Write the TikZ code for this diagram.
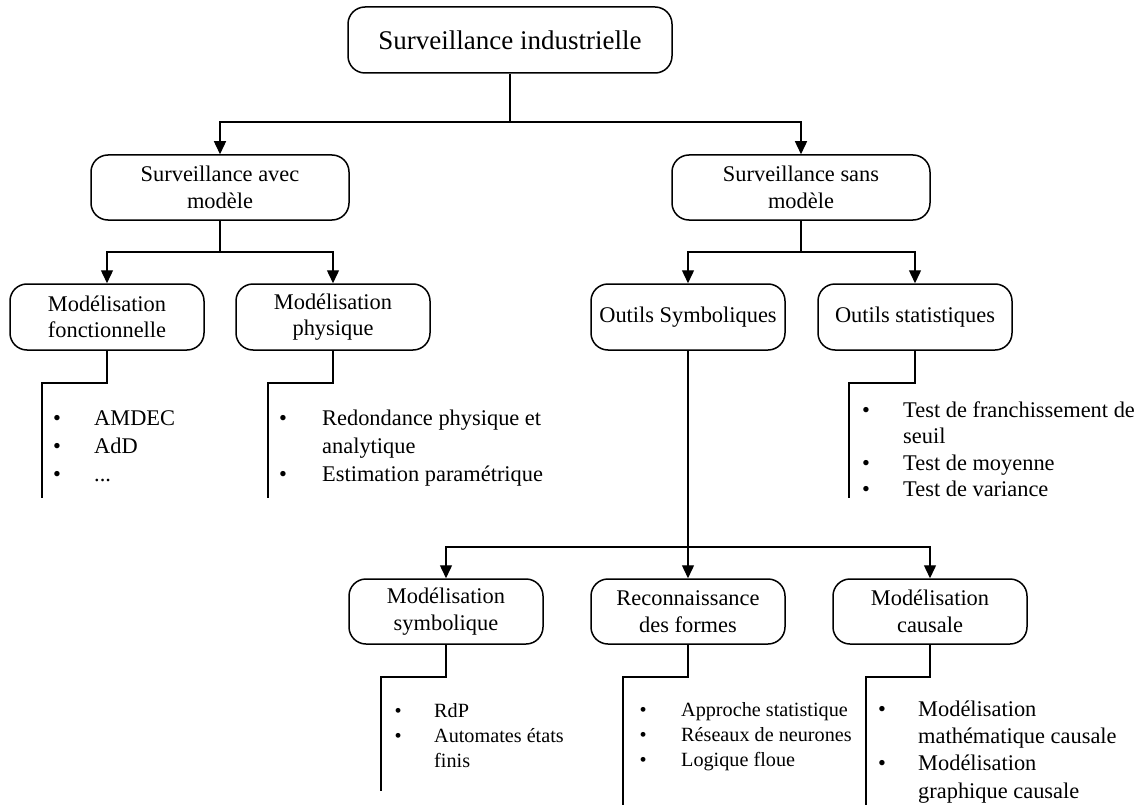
\documentclass[tikz,border=0pt]{standalone}
\usepackage{fontspec}
\setmainfont{Liberation Serif}
\usetikzlibrary{arrows.meta}
\begin{document}
\begin{tikzpicture}[x=1pt,y=-1pt,
  box/.style={draw,line width=1.5pt,rounded corners=17pt,minimum width=194pt,minimum height=66pt,align=center,inner sep=0pt,font=\fontsize{22.4}{26.5}\selectfont},
  conn/.style={line width=1.4pt},
  arr/.style={conn,-{Triangle[length=13pt,width=12pt]}},
  lst/.style={anchor=base west,inner sep=0pt}]
\useasboundingbox (0,0) rectangle (1142,805);

% boxes
\node[box,minimum width=324pt,font=\fontsize{27}{32}\selectfont] (top) at (510,40) {Surveillance industrielle};
\node[box,minimum width=258pt,minimum height=65pt] (avec) at (220,187.5) {Surveillance avec\\modèle};
\node[box,minimum width=258pt,minimum height=65pt] (sans) at (801,187.5) {Surveillance sans\\modèle};
\node[box] (fonct) at (107,317) {Modélisation\\fonctionnelle};
\node[box] (phys) at (333,317) {Modélisation\\physique};
\node[box] (osym) at (688,317) {Outils Symboliques};
\node[box] (ostat) at (915,317) {Outils statistiques};
\node[box,minimum height=65pt] (msym) at (446,611.5) {Modélisation\\symbolique};
\node[box,minimum height=65pt] (reco) at (688,611.5) {Reconnaissance\\des formes};
\node[box,minimum height=65pt] (caus) at (930,611.5) {Modélisation\\causale};

% junctions
\coordinate (j0) at (510,122);
\coordinate (j1) at (220,252);
\coordinate (j2) at (801,252);
\coordinate (j3) at (688,547);

\draw[conn] (top.south) -- (j0);
\draw[arr] (j0) -| (avec.north);
\draw[arr] (j0) -| (sans.north);
\draw[conn] (avec.south) -- (j1);
\draw[arr] (j1) -| (fonct.north);
\draw[arr] (j1) -| (phys.north);
\draw[conn] (sans.south) -- (j2);
\draw[arr] (j2) -| (osym.north);
\draw[arr] (j2) -| (ostat.north);
\draw[conn] (osym.south) -- (j3);
\draw[arr] (j3) -| (msym.north);
\draw[arr] (j3) -- (reco.north);
\draw[arr] (j3) -| (caus.north);

% list brackets
\coordinate (bf) at (42,383);  \coordinate (ef) at (42,498);
\coordinate (bp) at (268,383); \coordinate (ep) at (268,498);
\coordinate (bs) at (849,383); \coordinate (es) at (849,498);
\coordinate (bm) at (381,677); \coordinate (em) at (381,791);
\coordinate (br) at (623,677); \coordinate (er) at (623,805);
\coordinate (bc) at (866,677); \coordinate (ec) at (866,805);
\draw[conn] (fonct.south) |- (bf) -- (ef);
\draw[conn] (phys.south) |- (bp) -- (ep);
\draw[conn] (ostat.south) |- (bs) -- (es);
\draw[conn] (msym.south) |- (bm) -- (em);
\draw[conn] (reco.south) |- (br) -- (er);
\draw[conn] (caus.south) |- (bc) -- (ec);

% lists
\node[lst,font=\fontsize{22.4}{28}\selectfont] (lfonct) at (53,425)
  {\begin{tabular}[t]{@{}p{41pt}@{}l@{}}\textbullet&AMDEC\\\textbullet&AdD\\\textbullet&...\end{tabular}};
\node[lst,font=\fontsize{22.4}{28}\selectfont] (lphys) at (279,425)
  {\begin{tabular}[t]{@{}p{43pt}@{}l@{}}\textbullet&Redondance physique et\\&analytique\\\textbullet&Estimation paramétrique\end{tabular}};
\node[lst,font=\fontsize{22.4}{26.5}\selectfont] (lstat) at (862,417)
  {\begin{tabular}[t]{@{}p{41pt}@{}l@{}}\textbullet&Test de franchissement de\\&seuil\\\textbullet&Test de moyenne\\\textbullet&Test de variance\end{tabular}};
\node[lst,font=\fontsize{20.2}{25}\selectfont] (lmsym) at (394.5,717)
  {\begin{tabular}[t]{@{}p{39.5pt}@{}l@{}}\textbullet&RdP\\\textbullet&Automates états\\&finis\end{tabular}};
\node[lst,font=\fontsize{20.2}{25}\selectfont] (lreco) at (639.5,716)
  {\begin{tabular}[t]{@{}p{41.5pt}@{}l@{}}\textbullet&Approche statistique\\\textbullet&Réseaux de neurones\\\textbullet&Logique floue\end{tabular}};
\node[lst,font=\fontsize{22.4}{27.4}\selectfont] (lcaus) at (878,716)
  {\begin{tabular}[t]{@{}p{40pt}@{}l@{}}\textbullet&Modélisation\\&mathématique causale\\\textbullet&Modélisation\\&graphique causale\end{tabular}};
\end{tikzpicture}
\end{document}
